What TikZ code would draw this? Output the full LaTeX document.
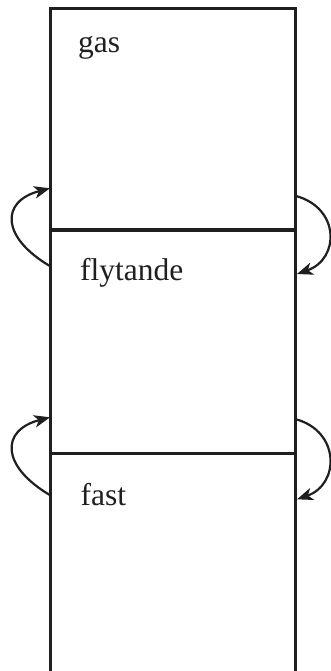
\documentclass[tikz,border=0pt]{standalone}
\usepackage{fontspec}
\setmainfont{Liberation Serif}
\usetikzlibrary{arrows.meta,calc}
\begin{document}
\begin{tikzpicture}[x=1pt,y=1pt,
  wall/.style={line width=2.7pt, color=black!88},
  divider/.style={line width=3.1pt, color=black!88},
  phasearrow/.style={line width=2.2pt, color=black!88,
    -{Stealth[length=16pt,width=12.5pt,inset=4.5pt]}},
  phaselabel/.style={anchor=base west, inner sep=0pt, color=black!88,
    font=\fontsize{31.5}{37}\selectfont}]
\useasboundingbox (0,0) rectangle (330,-671);
% container
\coordinate (bl) at (50.7,-671);
\coordinate (tl) at (50.7,-8.3);
\coordinate (tr) at (295.7,-8.3);
\coordinate (br) at (295.7,-671);
\draw[wall, line join=miter] (bl) -- (tl) -- (tr) -- (br);
\coordinate (d1l) at (50.7,-230);
\coordinate (d1r) at (295.7,-230);
\coordinate (d2l) at (50.7,-453.3);
\coordinate (d2r) at (295.7,-453.3);
\draw[divider] (d1l) -- (d1r);
\draw[divider] (d2l) -- (d2r);
% labels
\node[phaselabel] (gas) at (78,-53) {gas};
\node[phaselabel] (liq) at (80,-280) {flytande};
\node[phaselabel] (sol) at (80.5,-505) {fast};
% arrow end points
\coordinate (a1s) at (51,-266.7);
\coordinate (a1e) at (50,-188.3);
\coordinate (b1s) at (296,-196);
\coordinate (b1e) at (297,-274);
\coordinate (a2s) at (51,-495.7);
\coordinate (a2e) at (50,-417.3);
\coordinate (b2s) at (296,-419.3);
\coordinate (b2e) at (297,-499.3);
% left arrows (upwards)
\draw[phasearrow] (a1s) .. controls ($(a1s)+(-50,29)$) and ($(a1e)+(-50,-13)$) .. (a1e);
\draw[phasearrow] (a2s) .. controls ($(a2s)+(-50,29)$) and ($(a2e)+(-50,-13)$) .. (a2e);
% right arrows (downwards)
\draw[phasearrow] (b1s) .. controls ($(b1s)+(44,-12)$) and ($(b1e)+(43,15)$) .. (b1e);
\draw[phasearrow] (b2s) .. controls ($(b2s)+(44,-12)$) and ($(b2e)+(43,15)$) .. (b2e);
\end{tikzpicture}
\end{document}
